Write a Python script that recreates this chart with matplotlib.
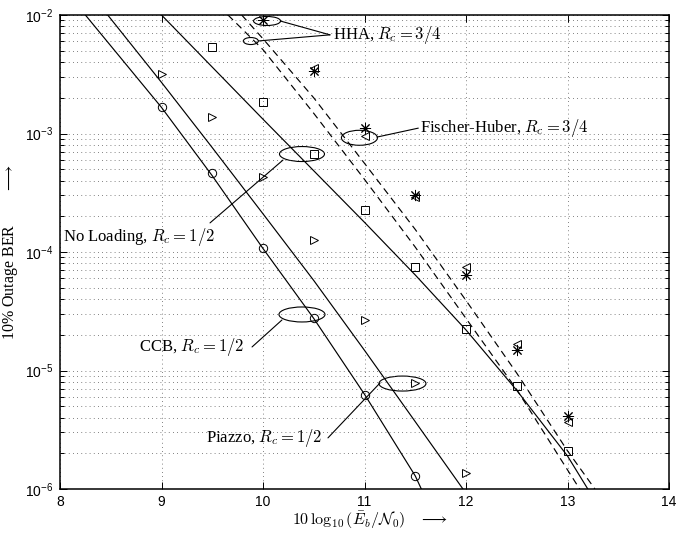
import numpy as np
import matplotlib.pyplot as plt
from matplotlib.patches import Ellipse
from matplotlib.transforms import ScaledTranslation
from matplotlib.ticker import NullLocator, LogLocator

plt.rcParams['mathtext.fontset'] = 'cm'
plt.rcParams['font.family'] = 'Liberation Serif'

# analytical curves (solid / dashed)
ccb_x = [8.25, 9, 9.5, 10, 10.5, 11, 11.5, 11.56]
ccb_ber = [1e-2, 1.66e-3, 4.4e-4, 1.07e-4, 2.75e-5, 6.3e-6, 1.29e-6, 1e-6]

piazzo_x = [8.47, 9, 9.5, 10, 10.5, 11, 11.5, 11.97]
piazzo_ber = [1e-2, 2.7e-3, 7.6e-4, 2.1e-4, 5.75e-5, 1.48e-5, 3.7e-6, 1e-6]

noload_x = [9, 10, 11, 11.5, 12, 12.5, 13, 13.2]
noload_ber = [1e-2, 1.32e-3, 1.78e-4, 6.4e-5, 2.2e-5, 6.8e-6, 1.9e-6, 1e-6]

hha_x = [9.655, 10, 10.5, 11, 11.5, 12, 12.5, 13, 13.12]
hha_ber = [1e-2, 5.1e-3, 1.48e-3, 4.1e-4, 1.1e-4, 2.75e-5, 6.9e-6, 1.45e-6, 1e-6]

fh_x = [9.79, 10, 10.5, 11, 11.5, 12, 12.5, 13, 13.27]
fh_ber = [1e-2, 6.3e-3, 2.0e-3, 5.6e-4, 1.55e-4, 3.9e-5, 9.5e-6, 2.1e-6, 1e-6]

# simulated points
sq_x = [9.5, 10, 10.5, 11, 11.5, 12, 12.5, 13]
sq_ber = [5.4e-3, 1.85e-3, 6.7e-4, 2.26e-4, 7.5e-5, 2.24e-5, 7.4e-6, 2.1e-6]

star_x = [10, 10.5, 11, 11.5, 12, 12.5, 13]
star_ber = [9.1e-3, 3.4e-3, 1.12e-3, 3.0e-4, 6.4e-5, 1.48e-5, 4.1e-6]

ltri_x = [10.5, 11, 11.5, 12, 12.5, 13]
ltri_ber = [3.6e-3, 9.5e-4, 2.9e-4, 7.4e-5, 1.66e-5, 3.7e-6]

rtri_x = [9, 9.5, 10, 10.5, 11, 11.5, 12]
rtri_ber = [3.2e-3, 1.38e-3, 4.3e-4, 1.26e-4, 2.67e-5, 7.9e-6, 1.36e-6]

circ_x = [9, 9.5, 10, 10.5, 11, 11.5]
circ_ber = [1.67e-3, 4.6e-4, 1.08e-4, 2.8e-5, 6.2e-6, 1.29e-6]

xticks = [8, 9, 10, 11, 12, 13, 14]
yticks = [1e-6, 1e-5, 1e-4, 1e-3, 1e-2]
ytick_labels = [r'$\mathregular{10^{-6}}$', r'$\mathregular{10^{-5}}$', r'$\mathregular{10^{-4}}$',
                r'$\mathregular{10^{-3}}$', r'$\mathregular{10^{-2}}$']

fig = plt.figure(figsize=(6.83, 5.33), dpi=100)
ax = fig.add_axes([60 / 683, 44 / 533, 609 / 683, 474 / 533])

lw = 0.85
dash = (0, (6, 4))
ax.semilogy(ccb_x, ccb_ber, 'k-', lw=lw)
ax.semilogy(piazzo_x, piazzo_ber, 'k-', lw=lw)
ax.semilogy(noload_x, noload_ber, 'k-', lw=lw)
ax.semilogy(hha_x, hha_ber, color='k', ls=dash, lw=lw)
ax.semilogy(fh_x, fh_ber, color='k', ls=dash, lw=lw)

mk = dict(ls='none', color='k', mfc='none', mew=0.7, ms=6)
ax.semilogy(sq_x, sq_ber, marker='s', **dict(mk, ms=5.5))
ax.semilogy(star_x, star_ber, marker=(8, 2, 0), **dict(mk, ms=8))
ax.semilogy(ltri_x, ltri_ber, marker='<', **mk)
ax.semilogy(rtri_x, rtri_ber, marker='>', **mk)
ax.semilogy(circ_x, circ_ber, marker='o', **mk)

ax.set_xlim(8, 14)
ax.set_ylim(1e-6, 1e-2)
ax.set_xticks(xticks)
ax.set_xticklabels([str(v) for v in xticks], family='Liberation Sans', fontsize=10)
ax.set_yticks(yticks)
ax.set_yticklabels(ytick_labels, family='Liberation Sans', fontsize=10)
ax.yaxis.set_minor_locator(LogLocator(base=10, subs=np.arange(2, 10)))
ax.xaxis.set_minor_locator(NullLocator())
ax.tick_params(which='both', direction='in', top=True, right=True, width=0.7)
ax.tick_params(which='major', length=5, pad=5)
ax.tick_params(axis='x', which='major', pad=4)
ax.tick_params(which='minor', length=3)
grid_style = dict(ls=(0, (1, 4)), color='0.35', lw=0.6)
ax.grid(True, which='major', **grid_style)
ax.grid(True, which='minor', axis='y', **grid_style)
for s in ax.spines.values():
    s.set_linewidth(1.1)

ax.set_xlabel(r'$10\,\log_{10}(\bar{E}_b/\mathcal{N}_0)\quad\longrightarrow$', fontsize=11.5, va='center')
ax.xaxis.set_label_coords(0.51, -0.066)
ax.set_ylabel(r'10% Outage BER $\qquad\longrightarrow$', fontsize=11.5)
ax.yaxis.set_label_coords(-0.066, 0.5)


def ring(x, y, w, h):
    tr = fig.dpi_scale_trans + ScaledTranslation(x, y, ax.transData)
    ax.add_patch(Ellipse((0, 0), w / 100, h / 100, transform=tr, fill=False, color='k', lw=0.8))


def link(x0, y0, x1, y1):
    ax.annotate('', xy=(x1, y1), xytext=(x0, y0),
                arrowprops=dict(arrowstyle='-', lw=0.8, color='k', shrinkA=0, shrinkB=0))


fs = 12
# HHA
ring(10.04, 8.9e-3, 27, 9)
ring(9.88, 6.03e-3, 15, 7)
ax.text(10.69, 6.8e-3, r'HHA, $R_c = 3/4$', fontsize=fs, va='center', ha='left')
link(10.66, 6.8e-3, 10.17, 8.9e-3)
link(10.66, 6.8e-3, 9.955, 6.04e-3)
# Fischer-Huber
ring(10.95, 9.2e-4, 36, 15)
ax.text(11.55, 1.11e-3, r'Fischer-Huber, $R_c = 3/4$', fontsize=fs, va='center', ha='left')
link(11.53, 1.11e-3, 11.123, 9.33e-4)
# No Loading
ring(10.384, 6.71e-4, 45, 15)
ax.text(8.03, 1.34e-4, r'No Loading, $R_c = 1/2$', fontsize=fs, va='center', ha='left')
link(9.478, 1.76e-4, 10.197, 5.97e-4)
# CCB
ring(10.384, 2.97e-5, 46, 15)
ax.text(9.82, 1.58e-5, r'CCB, $R_c = 1/2$', fontsize=fs, va='center', ha='right')
link(9.892, 1.58e-5, 10.187, 2.67e-5)
# Piazzo
ring(11.374, 7.76e-6, 47, 15)
ax.text(10.58, 2.7e-6, r'Piazzo, $R_c = 1/2$', fontsize=fs, va='center', ha='right')
link(10.64, 2.7e-6, 11.153, 7.85e-6)

fig.savefig('out.png', dpi=100)
